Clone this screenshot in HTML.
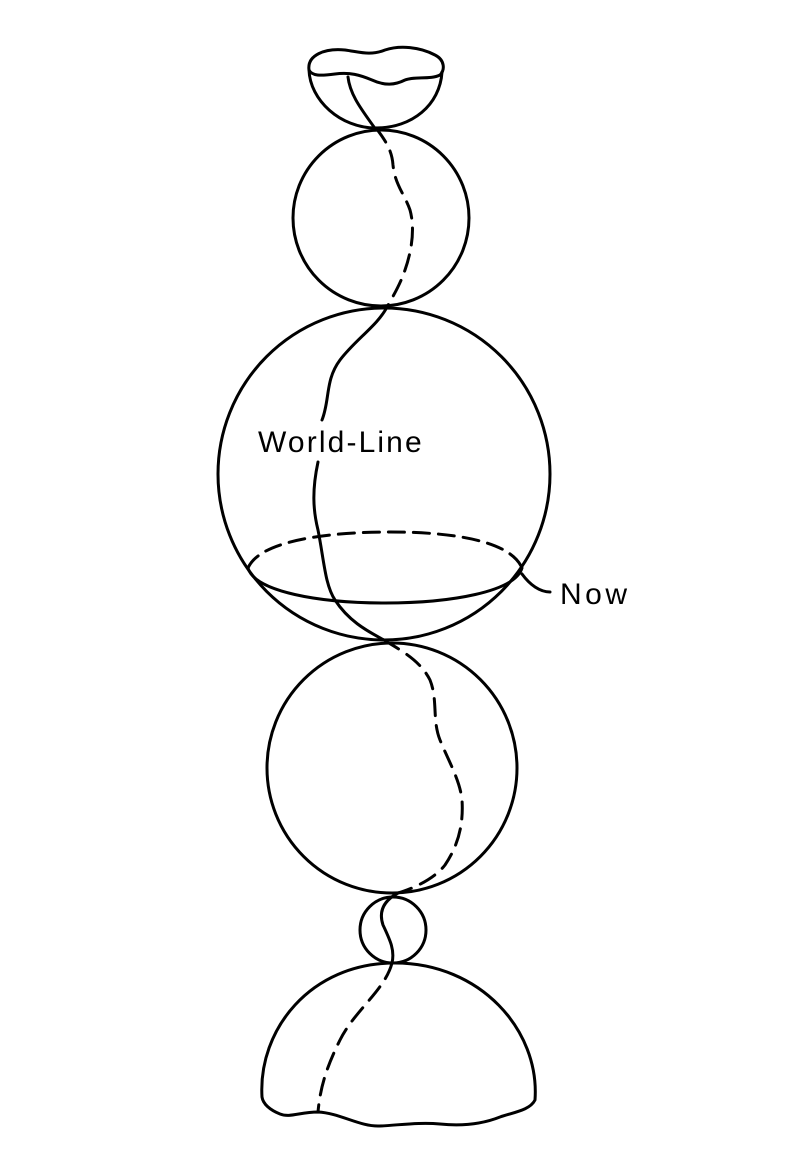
<!DOCTYPE html>
<html><head><style>html,body{margin:0;padding:0;background:#fff}svg{display:block}</style></head>
<body>
<svg width="794" height="1166" viewBox="0 0 794 1166" xmlns="http://www.w3.org/2000/svg">
<g fill="none" stroke="#000" stroke-width="3" stroke-linecap="round" stroke-linejoin="round">
<path d="M309,70 C307,55 325,48 345,50 C360,52 370,56 385,50 C400,45 420,47 435,55 C445,60 445,70 440,75 C430,80 415,76 405,80 C395,85 385,86 372,80 C360,75 350,72 335,74 C320,76 312,76 309,70 Z"/>
<path d="M309,70 C310,100 340,128 376,128 C412,128 440,105 442,72"/>
<path d="M348,77 C350,95 362,110 374,127"/>
<circle cx="381" cy="218" r="88"/>
<path d="M376,128 C385,140 392,150 393,165 C395,185 405,195 410,210 C415,228 412,250 405,270 C400,285 392,298 387,307" stroke-dasharray="17,10"/>
<circle cx="384" cy="474" r="166"/>
<path d="M387,307 C378,325 355,340 340,360 C325,380 330,400 322,420"/>
<path d="M318,462 C312,490 313,510 318,530 C324,560 325,585 335,600 C348,620 365,630 384,640"/>
<path d="M248,568 C260,540 330,532 390,532 C450,532 510,540 522,568" stroke-dasharray="16,9"/>
<path d="M248,568 C255,592 320,603 385,603 C450,603 515,592 522,568"/>
<path d="M522,574 C530,585 540,592 550,592"/>
<circle cx="392" cy="768" r="125"/>
<path d="M384,640 C400,650 420,660 430,680 C438,700 432,720 440,740 C448,760 460,780 462,800 C464,830 455,850 445,865 C435,878 415,888 398,893" stroke-dasharray="17,10"/>
<circle cx="393" cy="930" r="33"/>
<path d="M398,893 C385,900 378,910 383,925 C390,940 395,950 392,963"/>
<path d="M262,1097 C258,1030 310,963 395,963 C480,963 540,1030 535,1100 C530,1110 515,1112 500,1117 C480,1125 460,1126 440,1124 C420,1122 400,1125 380,1126 C360,1127 340,1113 318,1112 C300,1112 290,1118 280,1114 C270,1110 263,1104 262,1097 Z"/>
<path d="M392,963 C385,990 355,1010 340,1040 C325,1070 320,1090 318,1112" stroke-dasharray="17,10"/>
</g>
<text x="258" y="452" font-family="Liberation Sans, sans-serif" font-size="30" letter-spacing="1.3" textLength="165" fill="#000">World-Line</text>
<text x="560" y="604" font-family="Liberation Sans, sans-serif" font-size="30" textLength="67" fill="#000">Now</text>
</svg>
</body></html>
